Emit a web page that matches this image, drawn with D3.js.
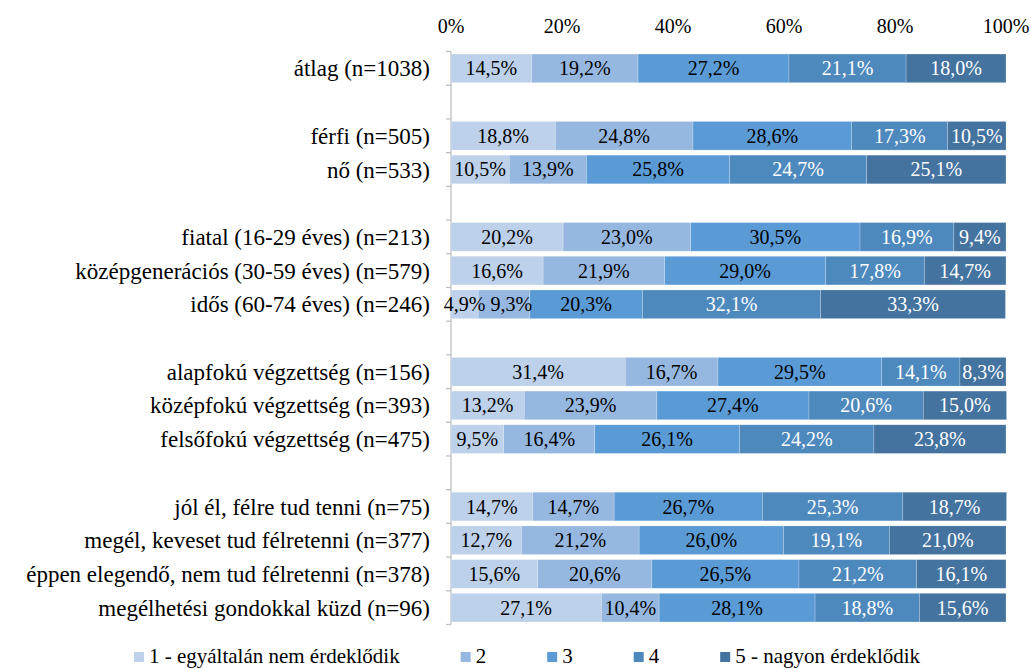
<!DOCTYPE html>
<html>
<head>
<meta charset="utf-8">
<script src="https://cdn.jsdelivr.net/npm/d3@7"></script>
<style>
  html, body { margin: 0; padding: 0; background: #fff; }
  svg { display: block; }
</style>
</head>
<body>
<svg id="chart" width="1031" height="668"></svg>
<script>
// ---- data ----
const categories = [
  "átlag (n=1038)", "",
  "férfi (n=505)", "nő (n=533)", " ",
  "fiatal (16-29 éves) (n=213)", "középgenerációs (30-59 éves) (n=579)", "idős (60-74 éves) (n=246)", "  ",
  "alapfokú végzettség (n=156)", "középfokú végzettség (n=393)", "felsőfokú végzettség (n=475)", "   ",
  "jól él, félre tud tenni (n=75)", "megél, keveset tud félretenni (n=377)", "éppen elegendő, nem tud félretenni (n=378)", "megélhetési gondokkal küzd (n=96)"
];
const seriesNames = ["1 - egyáltalán nem érdeklődik", "2", "3", "4", "5 - nagyon érdeklődik"];
const s1 = [14.5, null, 18.8, 10.5, null, 20.2, 16.6, 4.9, null, 31.4, 13.2, 9.5, null, 14.7, 12.7, 15.6, 27.1];
const s2 = [19.2, null, 24.8, 13.9, null, 23.0, 21.9, 9.3, null, 16.7, 23.9, 16.4, null, 14.7, 21.2, 20.6, 10.4];
const s3 = [27.2, null, 28.6, 25.8, null, 30.5, 29.0, 20.3, null, 29.5, 27.4, 26.1, null, 26.7, 26.0, 26.5, 28.1];
const s4 = [21.1, null, 17.3, 24.7, null, 16.9, 17.8, 32.1, null, 14.1, 20.6, 24.2, null, 25.3, 19.1, 21.2, 18.8];
const s5 = [18.0, null, 10.5, 25.1, null, 9.4, 14.7, 33.3, null, 8.3, 15.0, 23.8, null, 18.7, 21.0, 16.1, 15.6];
const xTicks = [0, 20, 40, 60, 80, 100];
const colors = ["#BDD1EB", "#96B8E0", "#5B9BD5", "#4E89BE", "#44739F"];
const labelColors = ["#000", "#000", "#000", "#fff", "#fff"];

const FONT = "'Liberation Serif', 'Times New Roman', Tinos, Times, serif";

// ---- layout ----
const svg = d3.select("#chart").attr("font-family", FONT);
const x = d3.scaleLinear().domain([0, 100]).range([451, 1006]);
const yTop = 51.5, yBot = 624.5;
const y = d3.scaleBand().domain(categories).range([yTop, yBot]).paddingInner(0.15).paddingOuter(0.075);

const series = [s1, s2, s3, s4, s5];
const fmt = v => d3.format(".1f")(v).replace(".", ",") + "%";

// top axis labels
svg.append("g").selectAll("text").data(xTicks).join("text")
  .attr("x", d => x(d)).attr("y", 33)
  .attr("text-anchor", "middle").attr("font-size", 20).attr("fill", "#000")
  .text(d => d + "%");

// left axis line and ticks (band boundaries)
const axisG = svg.append("g").attr("stroke", "#BFBFBF").attr("stroke-width", 1.3);
axisG.append("line").attr("x1", x(0)).attr("x2", x(0)).attr("y1", yTop).attr("y2", yBot);
const boundaries = d3.range(categories.length + 1).map(i => yTop + i * (yBot - yTop) / categories.length);
axisG.selectAll("line.t").data(boundaries).join("line").attr("class", "t")
  .attr("x1", x(0) - 5).attr("x2", x(0)).attr("y1", d => d).attr("y2", d => d);

// category labels
svg.append("g").selectAll("text").data(categories.filter(c => c.trim() !== "")).join("text")
  .attr("x", 430).attr("y", d => y(d) + y.bandwidth() / 2)
  .attr("dy", "0.35em").attr("text-anchor", "end").attr("font-size", 23).attr("fill", "#000")
  .text(d => d);

// stacked bars: rects first, then labels on top
const barG = svg.append("g");
const labG = svg.append("g");
categories.forEach((cat, i) => {
  if (cat.trim() === "") return;
  let cum = 0;
  let prevRight = -Infinity;
  series.forEach((s, k) => {
    const v = s[i];
    const x0 = x(cum), x1 = x(cum + v);
    barG.append("rect")
      .attr("x", x0).attr("y", y(cat))
      .attr("width", x1 - x0).attr("height", y.bandwidth())
      .attr("fill", colors[k])
      .attr("stroke", "#fff").attr("stroke-opacity", 0.35).attr("stroke-width", 0.6);
    const t = labG.append("text")
      .attr("y", y(cat) + y.bandwidth() / 2)
      .attr("dy", "0.35em").attr("text-anchor", "middle")
      .attr("font-size", 20).attr("fill", labelColors[k])
      .text(fmt(v));
    const w = t.node().getComputedTextLength();
    let cx = (x0 + x1) / 2;
    if (cx - w / 2 < prevRight + 5) cx = prevRight + 5 + w / 2;
    t.attr("x", cx);
    prevRight = cx + w / 2;
    cum += v;
  });
});

// legend
const lg = svg.append("g");
const items = lg.selectAll("g").data(seriesNames).join("g");
items.append("rect").attr("width", 10).attr("height", 10).attr("y", 652)
  .attr("fill", (d, i) => colors[i]);
items.append("text").attr("x", 15).attr("y", 663).attr("font-size", 21).attr("fill", "#000")
  .text(d => d);
let pos = 0;
const positions = [];
items.each(function() {
  const w = 15 + d3.select(this).select("text").node().getComputedTextLength();
  positions.push(pos);
  pos += w + 61;
});
const total = pos - 61;
const startX = 527 - total / 2;
items.attr("transform", (d, i) => `translate(${startX + positions[i]},0)`);
</script>
</body>
</html>
